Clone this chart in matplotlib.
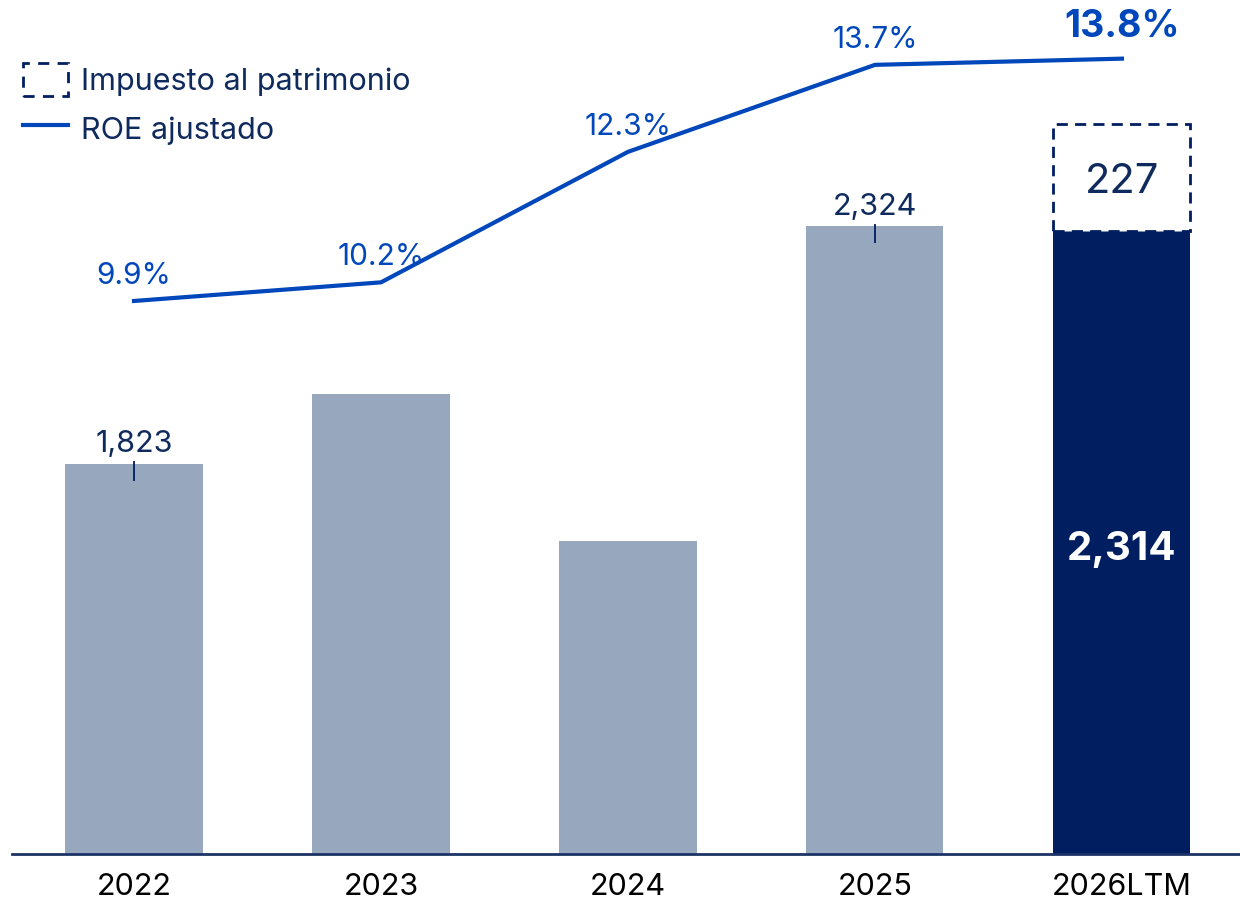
import matplotlib.pyplot as plt
from matplotlib.patches import Patch
from matplotlib.lines import Line2D

plt.rcParams['font.family'] = ['Inter', 'DejaVu Sans']

categories = ['2022', '2023', '2024', '2025', '2026LTM']
profit = [1823, 1970, 1661, 2324, 2314]
profit_labels = ['1,823', '', '', '2,324', '2,314']
wealth_tax = 227
roe = [9.9, 10.2, 12.3, 13.7, 13.8]
roe_labels = ['9.9%', '10.2%', '12.3%', '13.7%', '13.8%']

NAVY = '#001e60'
TEXT = '#0f2a5c'
GREY = '#97a7bd'
BLUE = '#0047bb'

fig = plt.figure(figsize=[12.4, 9.03], dpi=100)
ax = fig.add_axes([12 / 1240, 48 / 903, 1228 / 1240, 855 / 903])
x = list(range(len(categories)))
colors = [GREY] * 4 + [NAVY]
ax.bar(x, profit, width=0.555, color=colors, bottom=0, zorder=2)
ax.bar(x[-1], wealth_tax, width=0.555, bottom=profit[-1], facecolor='white',
       edgecolor=NAVY, linestyle=(0, (4, 2.6)), linewidth=2, zorder=3)
ax.set_ylim(1000, 2804)
ax.set_xlim(-0.494, 4.478)

for i, (v, lab) in enumerate(zip(profit, profit_labels)):
    if not lab:
        continue
    if i == len(profit) - 1:
        ax.text(i, 1000 + (v - 1000) * 0.5 - 13, lab, ha='center', va='center', color='white',
                fontsize=29, fontweight='bold', zorder=4)
    else:
        ax.vlines(i, v - 35, v + 6, color=NAVY, linewidth=1.3, zorder=4)
        ax.text(i, v + 44, lab, ha='center', va='center', color=TEXT, fontsize=22, zorder=4)
ax.text(x[-1], profit[-1] + wealth_tax / 2 - 7, str(wealth_tax), ha='center', va='center',
        color=TEXT, fontsize=30, zorder=4)

for s in ['top', 'right', 'left']:
    ax.spines[s].set_visible(False)
ax.spines['bottom'].set_color('#1c3366')
ax.spines['bottom'].set_linewidth(2)
ax.set_yticks([])
ax.set_xticks(x)
ax.set_xticklabels(categories, fontsize=22, color='black')
ax.tick_params(axis='x', length=0, pad=13)

ax2 = ax.twinx()
ax2.plot(x, roe, color=BLUE, linewidth=3, zorder=5)
ax2.set_ylim(1.0, 14.76)
ax2.set_yticks([])
for s in ax2.spines.values():
    s.set_visible(False)
for i, (v, lab) in enumerate(zip(roe, roe_labels)):
    if i == len(roe) - 1:
        ax2.text(i, v + 0.52, lab, ha='center', va='center', color=BLUE, fontsize=27,
                 fontweight='bold')
    else:
        ax2.text(i, v + 0.42, lab, ha='center', va='center', color=BLUE, fontsize=21.5)

handles = [Patch(facecolor='white', edgecolor=NAVY, linestyle=(0, (4, 3)), linewidth=2),
           Line2D([0], [0], color=BLUE, linewidth=3)]
fig.legend(handles, ['Impuesto al patrimonio', 'ROE ajustado'], loc='upper left',
           bbox_to_anchor=(-5 / 1240, 1 - 36 / 903), frameon=False, fontsize=22,
           labelcolor=TEXT, handlelength=1.5, handleheight=1.3, handletextpad=0.4,
           labelspacing=0.5, borderpad=0.4)

plt.savefig('out.png', dpi=100)
